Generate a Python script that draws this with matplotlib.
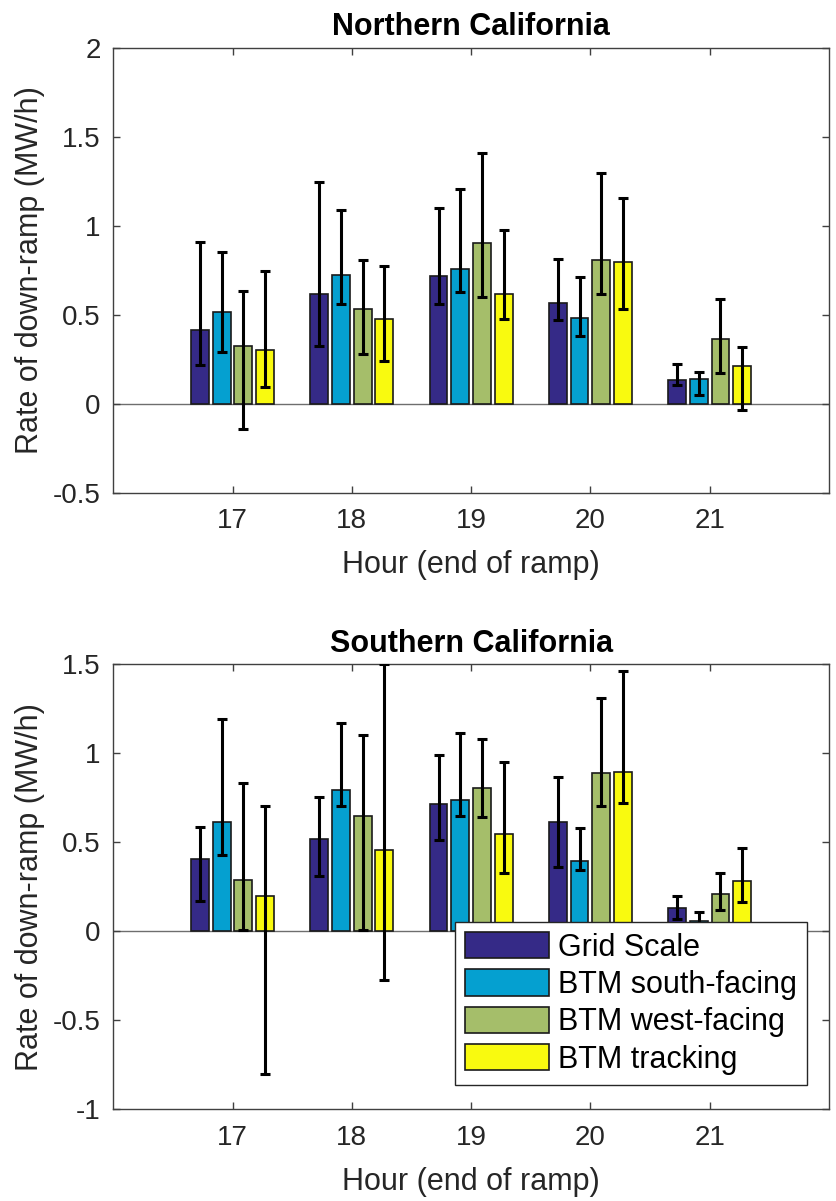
import matplotlib
matplotlib.use("Agg")
from matplotlib import pyplot as plt
import numpy as np

plt.rcParams['font.family'] = ['Liberation Sans', 'DejaVu Sans']
plt.rcParams['axes.unicode_minus'] = False

hours = [17, 18, 19, 20, 21]
series = ['Grid Scale', 'BTM south-facing', 'BTM west-facing', 'BTM tracking']
colors = ['#352a87', '#05a0d0', '#a5be6a', '#f9fa0f']

# Northern California: bar heights, lower / upper ends of error bars
north_val = [[0.415, 0.615, 0.715, 0.566, 0.135],
             [0.516, 0.724, 0.757, 0.482, 0.140],
             [0.322, 0.533, 0.900, 0.808, 0.360],
             [0.303, 0.474, 0.613, 0.796, 0.211]]
north_lo = [[0.215, 0.324, 0.562, 0.468, 0.103],
            [0.287, 0.562, 0.624, 0.380, 0.047],
            [-0.144, 0.277, 0.596, 0.618, 0.169],
            [0.093, 0.238, 0.474, 0.530, -0.034]]
north_hi = [[0.907, 1.244, 1.097, 0.811, 0.221],
            [0.851, 1.085, 1.203, 0.710, 0.178],
            [0.630, 0.808, 1.406, 1.297, 0.590],
            [0.745, 0.772, 0.973, 1.156, 0.318]]

# Southern California
south_val = [[0.406, 0.520, 0.717, 0.612, 0.131],
             [0.616, 0.797, 0.739, 0.398, 0.060],
             [0.286, 0.649, 0.805, 0.892, 0.210],
             [0.199, 0.458, 0.547, 0.896, 0.285]]
south_lo = [[0.172, 0.313, 0.515, 0.359, 0.070],
            [0.430, 0.705, 0.649, 0.346, 0.020],
            [0.010, 0.010, 0.642, 0.702, 0.122],
            [-0.800, -0.275, 0.328, 0.724, 0.165]]
south_hi = [[0.584, 0.754, 0.992, 0.870, 0.200],
            [1.192, 1.171, 1.113, 0.580, 0.107],
            [0.833, 1.104, 1.081, 1.310, 0.328],
            [0.705, 1.500, 0.951, 1.465, 0.468]]

fig = plt.figure(figsize=(8.36, 12.01), dpi=100)
ax1 = fig.add_axes([0.1355, 0.5899, 0.856, 0.3705])
ax2 = fig.add_axes([0.1355, 0.0763, 0.856, 0.3705])

x = np.array(hours, dtype=float)
step = 0.182
width = 0.15


def draw(ax, vals, lo, hi, title, ylim, yticks):
    ax.axhline(0, color='#6e6e6e', lw=1.0, zorder=1)
    for i in range(4):
        pos = x + (i - 1.5) * step
        v = np.array(vals[i])
        err = [v - np.array(lo[i]), np.array(hi[i]) - v]
        ax.bar(pos, v, width, color=colors[i], edgecolor='#1a1a1a',
               linewidth=1.2, zorder=2, label=series[i])
        ax.errorbar(pos, v, yerr=err, fmt='none', ecolor='black',
                    elinewidth=2.2, capsize=3.6, capthick=2.2, zorder=3)
    ax.set_xlim(16, 22)
    ax.set_ylim(*ylim)
    ax.set_xticks(hours)
    ax.set_yticks(yticks)
    ax.set_yticklabels(['%g' % t for t in yticks])
    ax.tick_params(direction='in', length=5, width=1, colors='#404040',
                   labelcolor='#262626', labelsize=20, top=True, right=True,
                   pad=9)
    ax.tick_params(axis='x', pad=11)
    for s in ax.spines.values():
        s.set_color('#404040')
        s.set_linewidth(1.0)
    ax.set_title(title, fontsize=22, fontweight='bold', pad=9)
    ax.set_xlabel('Hour (end of ramp)', fontsize=22, color='#262626', labelpad=12)
    ax.set_ylabel('Rate of down-ramp (MW/h)', fontsize=22, color='#262626', labelpad=6)


draw(ax1, north_val, north_lo, north_hi, 'Northern California',
     (-0.5, 2), [-0.5, 0, 0.5, 1, 1.5, 2])
draw(ax2, south_val, south_lo, south_hi, 'Southern California',
     (-1, 1.5), [-1, -0.5, 0, 0.5, 1, 1.5])

leg = ax2.legend(loc='upper left', bbox_to_anchor=(0.4774, 0.4216),
                 fontsize=22, frameon=True, fancybox=False, framealpha=1,
                 edgecolor='#262626', borderaxespad=0, borderpad=0.33,
                 handlelength=2.75, handleheight=0.95, handletextpad=0.3,
                 labelspacing=0.22)
leg.get_frame().set_linewidth(1.0)
leg.set_zorder(5)

fig.savefig('out.png', dpi=100)
